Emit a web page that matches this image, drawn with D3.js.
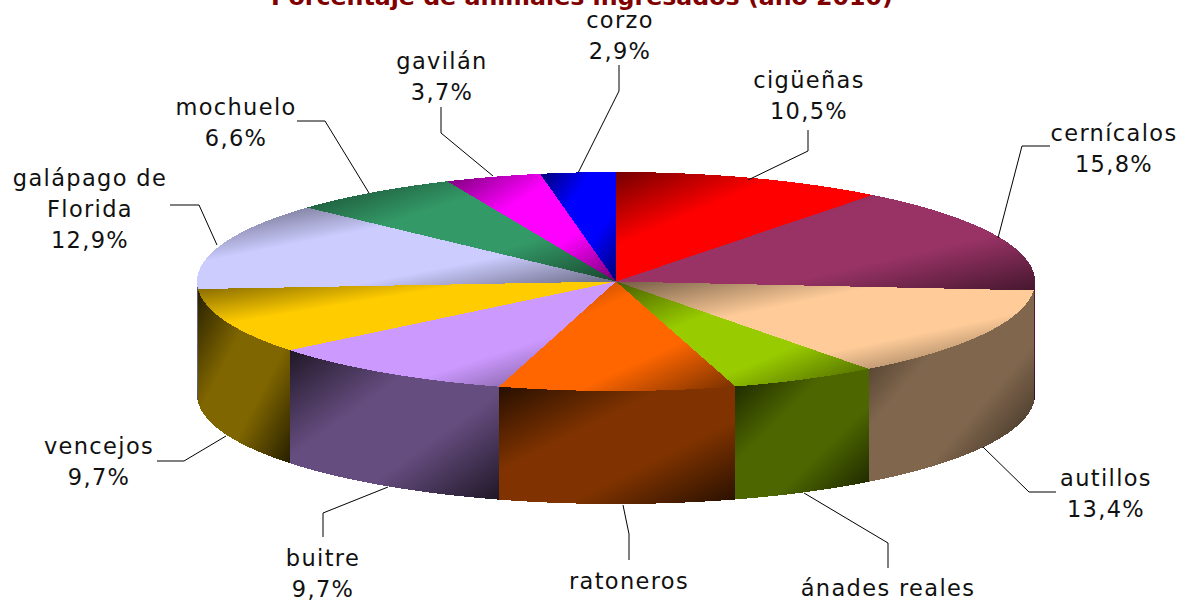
<!DOCTYPE html>
<html><head><meta charset="utf-8">
<script src="https://cdn.jsdelivr.net/npm/d3@7/dist/d3.min.js"></script>
<style>html,body{margin:0;padding:0;background:#fff;overflow:hidden}svg{display:block}</style>
</head><body><svg id="c" width="1178" height="601"></svg>
<script>
const categories=["cigüeñas","cernícalos","autillos","ánades reales","ratoneros","buitre","vencejos","galápago de Florida","mochuelo","gavilán","corzo"];
const values=[10.5,15.8,13.4,5.7,9.1,9.7,9.7,12.9,6.6,3.7,2.9];
const colors=["#FF0000","#993366","#FFCC99","#99CC00","#FF6600","#CC99FF","#FFCC00","#CCCCFF","#339966","#FF00FF","#0000FF"];
const valueLabels=["10,5%","15,8%","13,4%","5,7%","9,1%","9,7%","9,7%","12,9%","6,6%","3,7%","2,9%"];
const labelLines=[["cigüeñas"],["cernícalos"],["autillos"],["ánades reales"],["ratoneros"],["buitre"],["vencejos"],["galápago de","Florida"],["mochuelo"],["gavilán"],["corzo"]];
const labelAnchors=[[809,80],[1114,133],[1106,478],[888,588],[629,581],[323,558],[99,446],[90,178],[236,107],[442,61],[620,20]];
const leaderMids=[[808,151],[1022,146],[1029,492],[888,543],[629,534],[323,513],[184,461],[199,205],[325,121],[441,133],[619,91]];
const leaderEnds=[[748,180],[998,238],[983,447],[804,493],[623,505],[388,487],[226,436],[217,245],[369,193],[493,176],[578,173]];
const leaderStarts=[[808,130],[1050,146],[1056,492],[888,568],[629,560],[323,537],[157,461],[170,205],[297,121],[441,107],[619,65]];
const title="Porcentaje de animales ingresados (año 2010)";

const cx=616,cy=281.5,rx=419,ry=109.5,depth=113;
const svg=d3.select("#c"),defs=svg.append("defs");
const arcs=d3.pie().sort(null).value(d=>d)(values);
const sx=d3.scaleLinear().domain([-1,1]).range([cx-rx,cx+rx]);
const sy=d3.scaleLinear().domain([-1,1]).range([cy-ry,cy+ry]);
const px=a=>sx(Math.sin(a)), py=a=>sy(-Math.cos(a));

function grad(id,col,k,d0,w){
  const c=d3.color(col),base=d3.rgb(c.r*k,c.g*k,c.b*k),dark=d3.rgb(c.r*k*d0,c.g*k*d0,c.b*k*d0);
  const g=defs.append("linearGradient").attr("id",id).attr("x1",0).attr("y1",0).attr("x2",1).attr("y2",1);
  [[0,dark],[w,base],[1-w,base],[1,dark]].forEach(([o,s])=>g.append("stop").attr("offset",o).attr("stop-color",s.formatRgb()));
}
colors.forEach((c,i)=>{grad("t"+i,c,1,0.45,0.34);grad("s"+i,c,0.5,0.3,0.36);});

function arcPts(a0,a1){const n=Math.max(2,Math.ceil((a1-a0)/0.01));return d3.range(n+1).map(j=>a0+(a1-a0)*j/n);}
const line=d3.line();

const lo=Math.PI/2,hi=Math.PI*3/2;
const order=arcs.map((a,i)=>i).filter(i=>arcs[i].endAngle>lo&&arcs[i].startAngle<hi)
  .sort((p,q)=>Math.abs((arcs[q].startAngle+arcs[q].endAngle)/2-Math.PI)-Math.abs((arcs[p].startAngle+arcs[p].endAngle)/2-Math.PI));
const g=svg.append("g").attr("shape-rendering","crispEdges");
order.forEach(i=>{
  const a0=Math.max(arcs[i].startAngle,lo),a1=Math.min(arcs[i].endAngle,hi);
  const top=arcPts(a0,a1).map(a=>[px(a),py(a)]);
  const bot=top.slice().reverse().map(([x,y])=>[x,y+depth]);
  g.append("path").attr("d",line(top.concat(bot))+"Z").attr("fill",`url(#s${i})`);
});
arcs.forEach((d,i)=>{
  const pts=[[cx,cy]].concat(arcPts(d.startAngle,d.endAngle).map(a=>[px(a),py(a)]));
  g.append("path").attr("d",line(pts)+"Z").attr("fill",`url(#t${i})`);
});
const lg=svg.append("g").attr("fill","none").attr("stroke","#000").attr("stroke-width",1);
categories.forEach((c,i)=>lg.append("path").attr("d",line([leaderStarts[i],leaderMids[i],leaderEnds[i]])));
const tg=svg.append("g").attr("font-family","'DejaVu Sans',sans-serif").attr("font-size",22.5).attr("fill","#111").attr("text-anchor","middle").attr("letter-spacing","1.35");
categories.forEach((c,i)=>{
  const [x,y]=labelAnchors[i];
  const lines=labelLines[i].concat([valueLabels[i]]);
  lines.forEach((t,j)=>tg.append("text").attr("x",x).attr("y",y+8+j*31).text(t));
});
svg.append("text").attr("x",582).attr("y",5).attr("text-anchor","middle").attr("font-family","'DejaVu Sans',sans-serif").attr("font-weight","bold").attr("font-size",23.7).attr("fill","#800000").text(title);
</script></body></html>
